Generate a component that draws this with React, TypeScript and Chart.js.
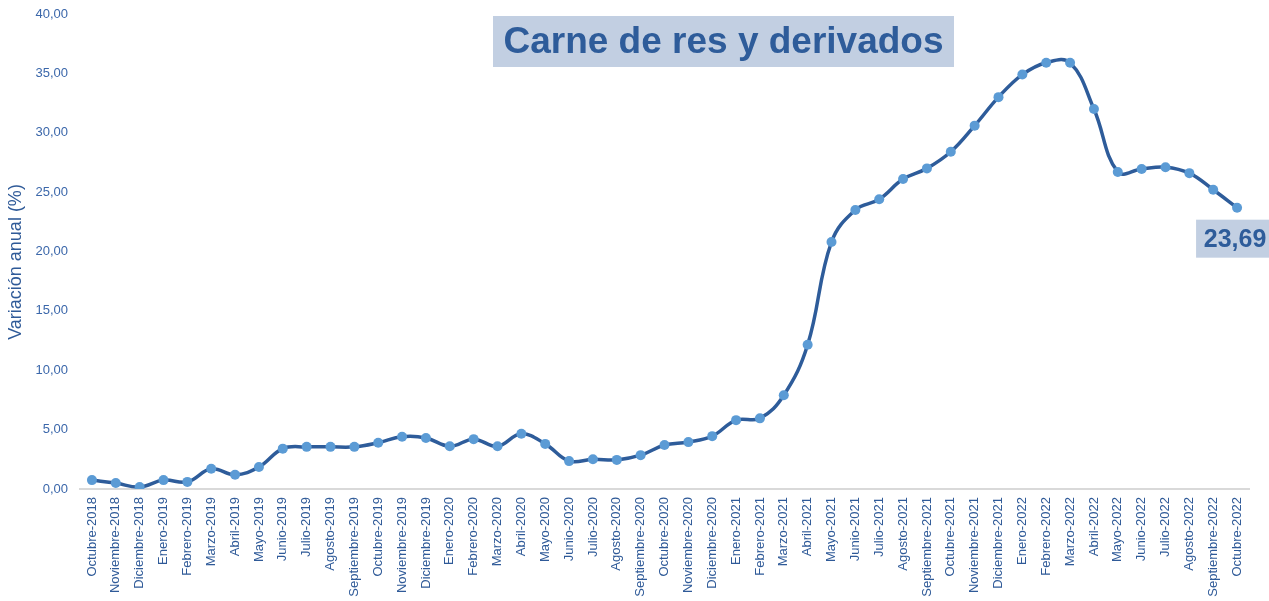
import React, { useEffect, useRef } from "react";
import { Chart, registerables } from "chart.js";

Chart.register(...registerables);

const categories: string[] = [
  "Octubre-2018", "Noviembre-2018", "Diciembre-2018",
  "Enero-2019", "Febrero-2019", "Marzo-2019", "Abril-2019", "Mayo-2019", "Junio-2019",
  "Julio-2019", "Agosto-2019", "Septiembre-2019", "Octubre-2019", "Noviembre-2019", "Diciembre-2019",
  "Enero-2020", "Febrero-2020", "Marzo-2020", "Abril-2020", "Mayo-2020", "Junio-2020",
  "Julio-2020", "Agosto-2020", "Septiembre-2020", "Octubre-2020", "Noviembre-2020", "Diciembre-2020",
  "Enero-2021", "Febrero-2021", "Marzo-2021", "Abril-2021", "Mayo-2021", "Junio-2021",
  "Julio-2021", "Agosto-2021", "Septiembre-2021", "Octubre-2021", "Noviembre-2021", "Diciembre-2021",
  "Enero-2022", "Febrero-2022", "Marzo-2022", "Abril-2022", "Mayo-2022", "Junio-2022",
  "Julio-2022", "Agosto-2022", "Septiembre-2022", "Octubre-2022",
];

const values: number[] = [
  0.75, 0.5, 0.17,
  0.75, 0.6, 1.7, 1.2, 1.85, 3.4,
  3.55, 3.55, 3.55, 3.9, 4.4, 4.3,
  3.6, 4.2, 3.6, 4.65, 3.8, 2.35,
  2.5, 2.45, 2.85, 3.7, 3.95, 4.45,
  5.8, 5.95, 7.9, 12.15, 20.8, 23.5,
  24.4, 26.1, 27.0, 28.4, 30.6, 33.0,
  34.9, 35.9, 35.9, 32.0, 26.7, 26.95,
  27.1, 26.6, 25.2, 23.69,
];

const chartTitle = "Carne de res y derivados";
const yAxisTitle = "Variación anual (%)";
const lastLabel = "23,69";

const FONT = "'Liberation Sans', Arial, sans-serif";

const fmt = (v: number) => v.toFixed(2).replace(".", ",");

const overlayPlugin = {
  id: "overlay",
  afterDraw(chart: any) {
    const ctx = chart.ctx;
    ctx.save();
    // Y axis title
    ctx.save();
    ctx.translate(16, 262);
    ctx.rotate(-Math.PI / 2);
    ctx.fillStyle = "#2F5A98";
    ctx.font = `18px ${FONT}`;
    ctx.textAlign = "center";
    ctx.textBaseline = "middle";
    ctx.fillText(yAxisTitle, 0, 0);
    ctx.restore();

    // Title box
    ctx.fillStyle = "#C2CFE2";
    ctx.fillRect(493, 16, 461, 51);
    ctx.fillStyle = "#2E5C9A";
    ctx.font = `bold 37px ${FONT}`;
    ctx.textAlign = "center";
    ctx.textBaseline = "middle";
    ctx.fillText(chartTitle, 723.5, 43);

    // Last value label
    const meta = chart.getDatasetMeta(0);
    const pt = meta.data[meta.data.length - 1];
    if (pt) {
      const left = pt.x - 41;
      const top = pt.y + 12;
      ctx.fillStyle = "#C2CFE2";
      ctx.fillRect(left, top, 80, 38);
      ctx.fillStyle = "#2E5C9A";
      ctx.font = `bold 25px ${FONT}`;
      ctx.textAlign = "center";
      ctx.textBaseline = "middle";
      ctx.fillText(lastLabel, pt.x - 2, top + 20);
    }
    ctx.restore();
  },
};

export default function App() {
  const canvasRef = useRef<HTMLCanvasElement | null>(null);

  useEffect(() => {
    document.body.style.margin = "0";
    const canvas = canvasRef.current;
    if (!canvas) return;
    const chart = new Chart(canvas, {
      type: "line",
      data: {
        labels: categories,
        datasets: [
          {
            data: values,
            borderColor: "#2E5C9A",
            borderWidth: 3.5,
            backgroundColor: "#5B9BD5",
            pointBackgroundColor: "#5B9BD5",
            pointBorderColor: "#5B9BD5",
            pointRadius: 5,
            pointBorderWidth: 0,
            tension: 0.4,
            fill: false,
          },
        ],
      },
      options: {
        responsive: false,
        animation: false,
        layout: { padding: { top: 14, right: 20, bottom: 0, left: 0 } },
        plugins: {
          legend: { display: false },
          title: { display: false },
          tooltip: { enabled: false },
        },
        scales: {
          x: {
            offset: true,
            grid: { display: false, drawTicks: false },
            border: { display: true, color: "#D9D9D9", width: 2 },
            ticks: {
              autoSkip: false,
              minRotation: 90,
              maxRotation: 90,
              padding: 8,
              color: "#2F5A98",
              font: { family: FONT, size: 13 },
            },
            afterFit: (scale: any) => {
              scale.height = 112;
            },
          },
          y: {
            min: 0,
            max: 40,
            grid: { display: false, drawTicks: false },
            border: { display: false },
            ticks: {
              stepSize: 5,
              padding: 12,
              color: "#3B67AA",
              font: { family: FONT, size: 13, lineHeight: 0.5 },
              callback: (v: any) => fmt(Number(v)),
            },
            afterFit: (scale: any) => {
              scale.width = 80;
              scale.paddingTop = 0;
              scale.paddingBottom = 0;
            },
          },
        },
      },
      plugins: [overlayPlugin],
    });
    return () => chart.destroy();
  }, []);

  return (
    <div style={{ position: "absolute", left: 0, top: 0, width: 1269, height: 601 }}>
      <canvas ref={canvasRef} width={1269} height={601} style={{ display: "block" }} />
    </div>
  );
}
